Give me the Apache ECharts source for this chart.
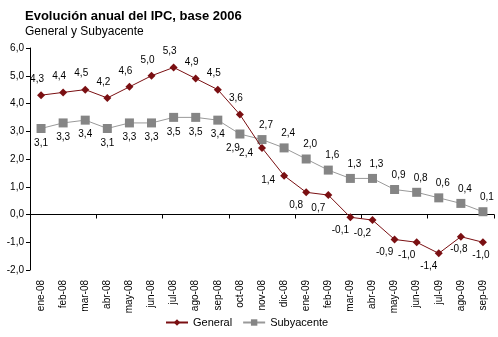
<!DOCTYPE html>
<html><head><meta charset="utf-8">
<script src="https://cdn.jsdelivr.net/npm/echarts@6/dist/echarts.min.js"></script>
<style>html,body{margin:0;padding:0;background:#fff}#c{width:498px;height:337px}</style>
</head><body><div id="c"></div>
<script>
var categories = ['ene-08','feb-08','mar-08','abr-08','may-08','jun-08','jul-08','ago-08','sep-08','oct-08','nov-08','dic-08','ene-09','feb-09','mar-09','abr-09','may-09','jun-09','jul-09','ago-09','sep-09'];
var general = [4.3,4.4,4.5,4.2,4.6,5.0,5.3,4.9,4.5,3.6,2.4,1.4,0.8,0.7,-0.1,-0.2,-0.9,-1.0,-1.4,-0.8,-1.0];
var subyacente = [3.1,3.3,3.4,3.1,3.3,3.3,3.5,3.5,3.4,2.9,2.7,2.4,2.0,1.6,1.3,1.3,0.9,0.8,0.6,0.4,0.1];
var yTicks = [-2,-1,0,1,2,3,4,5,6];

function fmt(v){ return Number(v).toFixed(1).replace('.', ','); }

var genData = general.map(function(v,i){
  var lab;
  if (i < 10) lab = {position:'top', offset:[-4,-2]};
  else if (i < 12) lab = {position:'left', offset:[0,5]};
  else if (i < 19) lab = {position:'bottom', offset:[-10,-1]};
  else lab = {position:'bottom', offset:[-2,-1]};
  return {value:v, label:lab};
});
var subData = subyacente.map(function(v,i){
  var lab;
  if (i < 9) lab = {position:'bottom', offset:[0,0]};
  else if (i === 9) lab = {position:'bottom', offset:[-7,0]};
  else lab = {position:'top', offset:[4,0]};
  return {value:v, label:lab};
});

var chart = echarts.init(document.getElementById('c'));
chart.setOption({
  animation:false,
  textStyle:{fontFamily:'Liberation Sans, Arial, sans-serif'},
  title:{
    text:'Evolución anual del IPC, base 2006',
    subtext:'General y Subyacente',
    left:20, top:5, itemGap:3,
    textStyle:{fontSize:13, fontWeight:'bold', color:'#000', fontFamily:'Liberation Sans, Arial, sans-serif'},
    subtextStyle:{fontSize:12, color:'#000', fontFamily:'Liberation Sans, Arial, sans-serif'}
  },
  legend:{
    bottom:4, left:160, itemWidth:22, itemHeight:8, itemGap:10,
    textStyle:{fontSize:11, color:'#000'},
    data:['General','Subyacente']
  },
  grid:{left:30, right:4, top:48, bottom:67, containLabel:false},
  xAxis:[{
    type:'category', data:categories, position:'bottom',
    axisLine:{show:false, onZero:false}, axisTick:{show:false},
    axisLabel:{rotate:90, fontSize:10, color:'#000', margin:10, interval:0}
  },{
    type:'category', data:categories, position:'bottom',
    axisLine:{show:true, onZero:true, lineStyle:{color:'#000', width:1}},
    axisTick:{show:true, inside:false, length:4, lineStyle:{color:'#000'}},
    axisLabel:{show:false}
  }],
  yAxis:{
    type:'value', min:-2, max:6, interval:1,
    axisLine:{show:true, lineStyle:{color:'#000'}},
    axisTick:{show:true, length:4, lineStyle:{color:'#000'}},
    splitLine:{show:false},
    axisLabel:{fontSize:10, color:'#000', margin:6, formatter:function(v){return yTicks.indexOf(v)>=0?fmt(v):'';}}
  },
  series:[{
    name:'General', type:'line', data:genData, xAxisIndex:0,
    symbol:'diamond', symbolSize:8,
    lineStyle:{color:'#7a0f12', width:1},
    itemStyle:{color:'#7a0f12'},
    label:{show:true, fontSize:10, color:'#000', formatter:function(p){return fmt(p.value);}},
    z:3
  },{
    name:'Subyacente', type:'line', data:subData, xAxisIndex:0,
    symbol:'rect', symbolSize:9,
    lineStyle:{color:'#999999', width:1},
    itemStyle:{color:'#858585'},
    label:{show:true, fontSize:10, color:'#000', formatter:function(p){return fmt(p.value);}},
    z:2
  }]
});
</script></body></html>
